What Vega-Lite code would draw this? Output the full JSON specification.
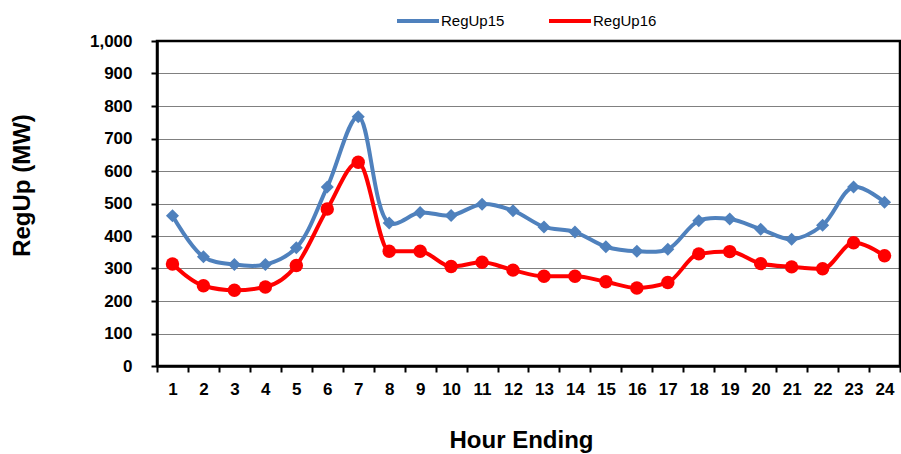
{
  "$schema": "https://vega.github.io/schema/vega-lite/v6.json",
  "width": 743,
  "height": 325,
  "autosize": {"type": "none"},
  "padding": {"left": 157, "top": 41, "right": 1, "bottom": 88},
  "background": "white",
  "config": {
    "font": "Liberation Sans",
    "view": {"stroke": "black", "strokeWidth": 2.5},
    "axis": {
      "labelFont": "Liberation Sans",
      "labelFontWeight": "bold",
      "labelFontSize": 17,
      "labelColor": "black",
      "labelOverlap": false,
      "titleFont": "Liberation Sans",
      "titleFontWeight": "bold",
      "titleFontSize": 24,
      "titleColor": "black",
      "domainColor": "black",
      "domainWidth": 2.5,
      "tickColor": "black",
      "tickWidth": 2,
      "tickSize": 6
    }
  },
  "data": {
    "values": [
      {"hour": 1, "series": "RegUp15", "mw": 462}, {"hour": 2, "series": "RegUp15", "mw": 336},
      {"hour": 3, "series": "RegUp15", "mw": 312}, {"hour": 4, "series": "RegUp15", "mw": 312},
      {"hour": 5, "series": "RegUp15", "mw": 364}, {"hour": 6, "series": "RegUp15", "mw": 551},
      {"hour": 7, "series": "RegUp15", "mw": 767}, {"hour": 8, "series": "RegUp15", "mw": 440},
      {"hour": 9, "series": "RegUp15", "mw": 472}, {"hour": 10, "series": "RegUp15", "mw": 463},
      {"hour": 11, "series": "RegUp15", "mw": 498}, {"hour": 12, "series": "RegUp15", "mw": 478},
      {"hour": 13, "series": "RegUp15", "mw": 428}, {"hour": 14, "series": "RegUp15", "mw": 412},
      {"hour": 15, "series": "RegUp15", "mw": 367}, {"hour": 16, "series": "RegUp15", "mw": 353},
      {"hour": 17, "series": "RegUp15", "mw": 359}, {"hour": 18, "series": "RegUp15", "mw": 447},
      {"hour": 19, "series": "RegUp15", "mw": 452}, {"hour": 20, "series": "RegUp15", "mw": 421},
      {"hour": 21, "series": "RegUp15", "mw": 390}, {"hour": 22, "series": "RegUp15", "mw": 433},
      {"hour": 23, "series": "RegUp15", "mw": 551}, {"hour": 24, "series": "RegUp15", "mw": 504},
      {"hour": 1, "series": "RegUp16", "mw": 314}, {"hour": 2, "series": "RegUp16", "mw": 247},
      {"hour": 3, "series": "RegUp16", "mw": 233}, {"hour": 4, "series": "RegUp16", "mw": 243},
      {"hour": 5, "series": "RegUp16", "mw": 309}, {"hour": 6, "series": "RegUp16", "mw": 483},
      {"hour": 7, "series": "RegUp16", "mw": 627}, {"hour": 8, "series": "RegUp16", "mw": 353},
      {"hour": 9, "series": "RegUp16", "mw": 353}, {"hour": 10, "series": "RegUp16", "mw": 306},
      {"hour": 11, "series": "RegUp16", "mw": 319}, {"hour": 12, "series": "RegUp16", "mw": 295},
      {"hour": 13, "series": "RegUp16", "mw": 276}, {"hour": 14, "series": "RegUp16", "mw": 276},
      {"hour": 15, "series": "RegUp16", "mw": 259}, {"hour": 16, "series": "RegUp16", "mw": 240},
      {"hour": 17, "series": "RegUp16", "mw": 257}, {"hour": 18, "series": "RegUp16", "mw": 345},
      {"hour": 19, "series": "RegUp16", "mw": 352}, {"hour": 20, "series": "RegUp16", "mw": 315},
      {"hour": 21, "series": "RegUp16", "mw": 305}, {"hour": 22, "series": "RegUp16", "mw": 299},
      {"hour": 23, "series": "RegUp16", "mw": 379}, {"hour": 24, "series": "RegUp16", "mw": 339}
    ]
  },
  "encoding": {
    "x": {
      "field": "hour", "type": "ordinal",
      "scale": {"paddingInner": 0, "paddingOuter": 0},
      "axis": {
        "title": "Hour Ending", "labelAngle": 0, "tickBand": "extent",
        "labelPadding": 9, "titleX": 364, "titleY": 74, "titleAlign": "center", "titleBaseline": "middle", "grid": false
      }
    },
    "y": {
      "field": "mw", "type": "quantitative",
      "scale": {"domain": [0, 1000], "nice": false},
      "axis": {
        "title": "RegUp (MW)", "format": ",.0f", "values": [0,100,200,300,400,500,600,700,800,900,1000],
        "labelPadding": 19, "titleX": -135, "titleY": 144, "titleBaseline": "middle",
        "grid": true, "gridColor": "#000000", "gridDash": [1, 1], "gridWidth": 1
      }
    },
    "color": {
      "field": "series", "type": "nominal",
      "scale": {"domain": ["RegUp15", "RegUp16"], "range": ["#4F81BD", "#FF0000"]},
      "legend": {
        "title": null, "orient": "none", "direction": "horizontal",
        "legendX": 238, "legendY": -43,
        "symbolType": "stroke", "symbolSize": 1764, "symbolStrokeWidth": 4,
        "labelFont": "Liberation Sans", "labelFontSize": 15, "labelColor": "black",
        "labelOffset": 0, "columnPadding": 36
      }
    }
  },
  "layer": [
    {
      "transform": [{"filter": "datum.series === 'RegUp15'"}],
      "mark": {"type": "line", "interpolate": "catmull-rom", "strokeWidth": 4}
    },
    {
      "transform": [{"filter": "datum.series === 'RegUp16'"}],
      "mark": {"type": "line", "interpolate": "monotone", "strokeWidth": 4}
    },
    {
      "transform": [{"filter": "datum.series === 'RegUp15'"}],
      "mark": {"type": "point", "shape": "diamond", "filled": true, "size": 170, "opacity": 1}
    },
    {
      "transform": [{"filter": "datum.series === 'RegUp16'"}],
      "mark": {"type": "point", "shape": "circle", "filled": true, "size": 180, "opacity": 1}
    }
  ]
}
